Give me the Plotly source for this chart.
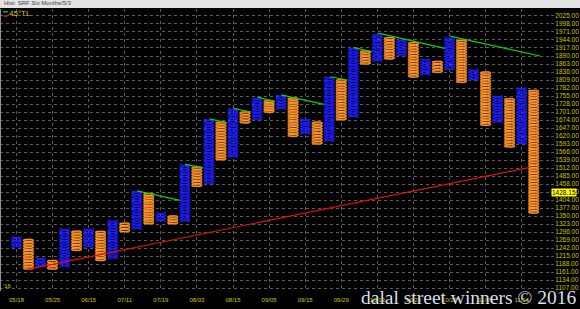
import plotly.graph_objects as go
import math

# ---- data ----
col_type = ["X","O","X","O","X","O","X","O","X","O","X","O","X","O","X","O","X","O","X","O","X","O",
            "X","O","X","O","X","O","X","O","X","O","X","O","X","O","X","O","X","O","X","O","X","O"]
col_high = [1280,1272,1209,1201,1308,1300,1308,1299,1336,1327,1435,1427,1362,1351,1524,1516,1677,1668,
            1713,1702,1749,1740,1758,1749,1677,1668,1820,1811,1918,1908,1963,1953,1946,1936,1880,1873,
            1953,1944,1845,1837,1756,1747,1783,1775]
col_low = [1243,1170,1178,1170,1178,1233,1243,1199,1206,1296,1305,1323,1331,1323,1331,1449,1458,1539,
           1548,1663,1674,1699,1710,1618,1627,1592,1601,1674,1683,1862,1871,1879,1890,1818,1826,1834,
           1843,1800,1807,1655,1665,1582,1592,1359]
box_size = 9.0

tick_cols = [1,4,7,10,13,16,19,22,25,28,31,34,37,40,43]
tick_dates = ["05/18","05/25","06/15","07/11","07/19","08/03","08/15","09/05","09/15","09/29",
              "10/13","10/20","10/27","11/09","11/16"]
price_ticks = [1107 + 27*k for k in range(35)]
last_price = 1428.15

# trend lines: (x0, y0, x1, y1) in column index / price
red_line = (1.93, 1170, 43.69, 1514)
green_lines = [(11.02,1435,14.59,1403),(15.0,1524,16.5,1513),(17.03,1678,18.47,1665),
               (19.02,1713,20.49,1701),(21.02,1751,22.49,1736),(22.99,1759,26.56,1727),
               (27.06,1820,28.5,1809),(29.0,1919,30.55,1904),(31.07,1967,36.6,1916),
               (37.04,1957,44.52,1890)]

# ---- build marks ----
ox, oy, xx, xy = [], [], [], []
a = 0.43
for i, (t, hi, lo) in enumerate(zip(col_type, col_high, col_low), start=1):
    n = max(1, round((hi - lo) / box_size))
    h = (hi - lo) / n
    for k in range(n):
        c = lo + (k + 0.5) * h
        b = h / 2 * 0.9
        if t == "O":
            for j in range(17):
                ang = 2 * math.pi * j / 16
                ox.append(i + a * math.cos(ang))
                oy.append(c + b * math.sin(ang))
            ox.append(None); oy.append(None)
        else:
            xx += [i - a, i + a, None, i - a, i + a, None]
            xy += [c - b, c + b, None, c + b, c - b, None]

fig = go.Figure()
fig.add_trace(go.Scatter(x=ox, y=oy, mode="lines", line=dict(color="#a85000", width=1.8),
                         hoverinfo="skip", showlegend=False))
fig.add_trace(go.Scatter(x=ox, y=oy, mode="lines", line=dict(color="#ffa03c", width=1.0),
                         hoverinfo="skip", showlegend=False))
fig.add_trace(go.Scatter(x=xx, y=xy, mode="lines", line=dict(color="#1c1cff", width=1.3),
                         hoverinfo="skip", showlegend=False))
fig.add_trace(go.Scatter(x=[red_line[0], red_line[2]], y=[red_line[1], red_line[3]], mode="lines",
                         line=dict(color="#e01010", width=1.2), hoverinfo="skip", showlegend=False))
for g in green_lines:
    fig.add_trace(go.Scatter(x=[g[0], g[2]], y=[g[1], g[3]], mode="lines",
                             line=dict(color="#10d010", width=1.2), hoverinfo="skip", showlegend=False))

ycol = "#c8c800"
fig.update_layout(
    width=580, height=309, margin=dict(l=0, r=30, t=9, b=18),
    paper_bgcolor="#000000", plot_bgcolor="#000000",
    xaxis=dict(range=[-0.37, 45.35], tickvals=tick_cols, ticktext=tick_dates,
               showgrid=True, gridcolor="#5c5c5c", griddash="dot", gridwidth=1,
               zeroline=False, ticks="outside", ticklen=3, tickcolor="#000000",
               tickfont=dict(family="Liberation Sans", size=6, color=ycol)),
    yaxis=dict(range=[1096.9, 2048.6], side="right", tickvals=price_ticks,
               ticktext=[f"{p:.2f}" for p in price_ticks],
               showgrid=True, gridcolor="#5c5c5c", griddash="dot", gridwidth=1,
               zeroline=False, ticks="outside", ticklen=3, tickcolor="#555555",
               tickfont=dict(family="Liberation Sans", size=6.5, color=ycol)),
    font=dict(family="Liberation Sans"),
)

shapes = [
    dict(type="rect", xref="paper", yref="paper", x0=-0.01, x1=1.07, y0=1.0035, y1=1.05,
         fillcolor="#e4e4e4", line=dict(width=0), layer="above"),
    dict(type="line", xref="paper", yref="paper", x0=0.001, x1=0.001, y0=0, y1=1,
         line=dict(color="#9a9a9a", width=1)),
    dict(type="line", xref="paper", yref="paper", x0=0.006, x1=0.014, y0=0.990, y1=0.990,
         line=dict(color="#10d010", width=1.5)),
    dict(type="line", xref="paper", yref="paper", x0=0.006, x1=0.014, y0=0.975, y1=0.975,
         line=dict(color="#e01010", width=1.5)),
]
fig.update_layout(shapes=shapes)

fig.add_annotation(xref="paper", yref="paper", x=0.004, y=1.0045, xanchor="left", yanchor="bottom",
                   text="Hist: SRF Six Months/5/3", showarrow=False,
                   font=dict(family="Liberation Sans", size=6, color="#404040"))
fig.add_annotation(xref="paper", yref="paper", x=0.012, y=0.983, xanchor="left", yanchor="middle",
                   text="45°TL", showarrow=False,
                   font=dict(family="Liberation Sans", size=8, color="#d4d400"))
fig.add_annotation(xref="paper", yref="y", x=1.0, y=last_price, xanchor="left", yanchor="middle",
                   xshift=1, text=f"{last_price:.2f}", showarrow=False, bgcolor="#ffff00",
                   borderpad=0, font=dict(family="Liberation Sans", size=6.5, color="#000000"))
fig.add_annotation(xref="paper", yref="paper", x=0.002, y=0.0, xanchor="left", yanchor="bottom",
                   text="'16", showarrow=False,
                   font=dict(family="Liberation Sans", size=6, color=ycol))
fig.add_annotation(xref="paper", yref="paper", x=1.05, y=-0.022, xanchor="right", yanchor="middle",
                   text="dalal street winners © 2016", showarrow=False,
                   font=dict(family="Liberation Serif", size=19.5, color="#dcdfee"))

fig.write_html("out.html")
